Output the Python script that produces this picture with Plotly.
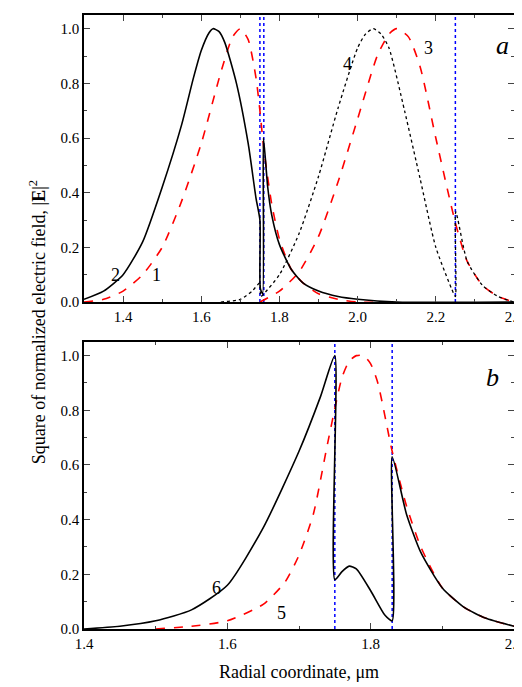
import plotly.graph_objects as go
from plotly.subplots import make_subplots

# panel a
x1 = [1.30, 1.35, 1.40, 1.45, 1.50, 1.55, 1.60, 1.65, 1.68, 1.70, 1.72, 1.74, 1.75, 1.76, 1.78, 1.80, 1.83, 1.86, 1.90, 1.95, 2.00, 2.10]
y1 = [0.0, 0.01, 0.04, 0.10, 0.20, 0.37, 0.58, 0.84, 0.97, 1.0, 0.96, 0.82, 0.70, 0.56, 0.36, 0.23, 0.12, 0.07, 0.03, 0.01, 0.0, 0.0]
x2 = [1.30, 1.35, 1.40, 1.45, 1.50, 1.55, 1.58, 1.60, 1.62, 1.63, 1.645, 1.66, 1.69, 1.72, 1.74, 1.750, 1.751, 1.757, 1.759, 1.77, 1.78, 1.80, 1.83, 1.86, 1.90, 1.95, 2.00, 2.10, 2.40]
y2 = [0.01, 0.04, 0.10, 0.22, 0.42, 0.65, 0.82, 0.92, 0.985, 1.0, 0.99, 0.95, 0.80, 0.58, 0.38, 0.30, 0.05, 0.03, 0.60, 0.42, 0.32, 0.21, 0.12, 0.07, 0.04, 0.02, 0.01, 0.0, 0.0]
x3 = [1.75, 1.80, 1.85, 1.90, 1.95, 2.00, 2.05, 2.08, 2.10, 2.13, 2.16, 2.20, 2.25, 2.28, 2.32, 2.36, 2.40]
y3 = [0.0, 0.04, 0.11, 0.24, 0.44, 0.67, 0.90, 0.98, 1.0, 0.97, 0.86, 0.60, 0.29, 0.15, 0.06, 0.02, 0.0]
x4 = [1.65, 1.70, 1.73, 1.750, 1.752, 1.76, 1.80, 1.85, 1.90, 1.95, 2.00, 2.02, 2.04, 2.06, 2.08, 2.12, 2.16, 2.20, 2.24, 2.250, 2.251, 2.28, 2.32, 2.36, 2.40]
y4 = [0.0, 0.01, 0.04, 0.07, 0.02, 0.03, 0.10, 0.25, 0.46, 0.71, 0.93, 0.98, 1.0, 0.98, 0.93, 0.70, 0.45, 0.20, 0.05, 0.02, 0.33, 0.15, 0.06, 0.02, 0.0]
# panel b
x5 = [1.50, 1.55, 1.60, 1.65, 1.68, 1.70, 1.72, 1.74, 1.76, 1.77, 1.78, 1.79, 1.80, 1.81, 1.83, 1.85, 1.87, 1.90, 1.93, 1.96, 2.00]
y5 = [0.0, 0.01, 0.03, 0.09, 0.17, 0.27, 0.42, 0.68, 0.92, 0.98, 1.0, 1.0, 0.97, 0.90, 0.65, 0.45, 0.30, 0.15, 0.08, 0.04, 0.01]
x6 = [1.40, 1.45, 1.50, 1.55, 1.60, 1.65, 1.70, 1.73, 1.75, 1.75, 1.76, 1.77, 1.78, 1.80, 1.82, 1.83, 1.83, 1.85, 1.87, 1.90, 1.93, 1.96, 2.00]
y6 = [0.0, 0.01, 0.03, 0.07, 0.16, 0.37, 0.65, 0.85, 1.0, 0.18, 0.21, 0.23, 0.22, 0.14, 0.05, 0.03, 0.63, 0.42, 0.28, 0.15, 0.08, 0.04, 0.01]
vlines_a = [1.75, 1.76, 2.25]
vlines_b = [1.75, 1.83]

font = "Liberation Serif"
sp = dict(shape="spline", smoothing=0.6)
red = dict(color="red", width=1.6, dash="dash", **sp)
blk = dict(color="black", width=1.6, **sp)

fig = make_subplots(rows=2, cols=1, vertical_spacing=0.065)

for xv in vlines_a:
    fig.add_trace(go.Scatter(x=[xv, xv], y=[0, 1.05], mode="lines",
                             line=dict(color="blue", width=1.5, dash="dot")), 1, 1)
for xv in vlines_b:
    fig.add_trace(go.Scatter(x=[xv, xv], y=[0, 1.05], mode="lines",
                             line=dict(color="blue", width=1.5, dash="dot")), 2, 1)

fig.add_trace(go.Scatter(x=x1, y=y1, mode="lines", line=red), 1, 1)
fig.add_trace(go.Scatter(x=x3, y=y3, mode="lines", line=red), 1, 1)
fig.add_trace(go.Scatter(x=x4, y=y4, mode="lines", line=dict(color="black", width=1.3, dash="dot", **sp)), 1, 1)
fig.add_trace(go.Scatter(x=x2, y=y2, mode="lines", line=blk), 1, 1)
fig.add_trace(go.Scatter(x=x5, y=y5, mode="lines", line=red), 2, 1)
fig.add_trace(go.Scatter(x=x6, y=y6, mode="lines", line=blk), 2, 1)

labels = [
    (1, 1.38, 0.1, "2"), (1, 1.485, 0.1, "1"), (1, 2.18, 0.93, "3"),
    (1, 1.975, 0.87, "4"), (1, 2.37, 0.94, "<i>a</i>"),
    (2, 1.585, 0.15, "6"), (2, 1.675, 0.06, "5"), (2, 1.97, 0.92, "<i>b</i>"),
]
for r, x, y, t in labels:
    big = t.startswith("<i>")
    fig.add_annotation(x=x, y=y, text=t, showarrow=False, row=r, col=1,
                       font=dict(family=font, size=26 if big else 18, color="black"))

ax = dict(showline=True, mirror="ticks", linecolor="black", linewidth=1.5,
          ticks="inside", ticklen=6, tickwidth=1.2, showgrid=False, zeroline=False,
          tickfont=dict(family=font, size=15, color="black"),
          minor=dict(ticks="inside", ticklen=3, tickwidth=1))
fig.update_xaxes(**ax)
fig.update_yaxes(**ax)
fig.update_xaxes(range=[1.3, 2.4], dtick=0.2, tickformat=".1f", minor_dtick=0.1, row=1, col=1)
fig.update_xaxes(range=[1.4, 2.0], dtick=0.2, tickformat=".1f", minor_dtick=0.1, row=2, col=1)
fig.update_yaxes(range=[0, 1.05], dtick=0.2, tickformat=".1f", minor_dtick=0.1)
fig.update_xaxes(title=dict(text="Radial coordinate, μm", font=dict(family=font, size=18, color="black")), row=2, col=1)

fig.add_annotation(text="Square of normalized electric field, |<b>E</b>|<sup>2</sup>",
                   xref="paper", yref="paper", x=-0.14, y=0.5, textangle=-90,
                   showarrow=False, font=dict(family=font, size=18, color="black"))

fig.update_layout(width=522, height=687, showlegend=False,
                  plot_bgcolor="white", paper_bgcolor="white",
                  margin=dict(l=76, r=16, t=5, b=66))
fig.write_html("out.html")
